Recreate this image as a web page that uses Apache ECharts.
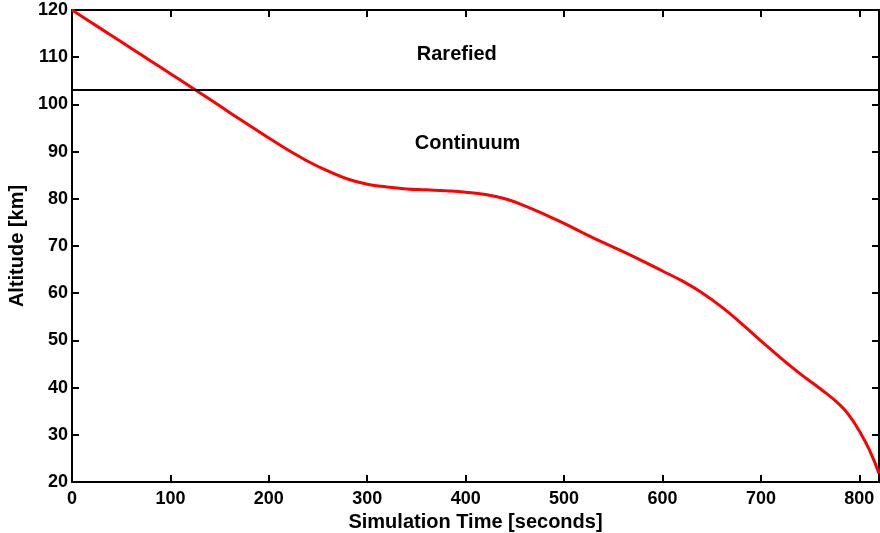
<!DOCTYPE html>
<html>
<head>
<meta charset="utf-8">
<script src="https://cdn.jsdelivr.net/npm/echarts@6/dist/echarts.min.js"></script>
<style>
  html, body { margin: 0; padding: 0; background: #fff; }
  #chart { width: 880px; height: 533px; }
</style>
</head>
<body>
<div id="chart"></div>
<script>
// simulation time [s] and altitude [km]
var times = [0, 20, 40, 60, 80, 100, 120, 140, 160, 180, 200, 220, 240, 260, 280, 300,
  320, 340, 360, 380, 400, 420, 440, 460, 480, 500, 520, 540, 560, 580, 600, 620, 640,
  660, 680, 700, 720, 740, 760, 780, 790, 800, 810, 820];
var altitude = [120, 117.3, 114.6, 111.9, 109.2, 106.5, 103.8, 101.1, 98.3, 95.6, 92.9,
  90.3, 87.9, 85.9, 84.2, 83.1, 82.5, 82.1, 81.9, 81.7, 81.4, 80.9, 80.0, 78.5, 76.7,
  74.8, 72.7, 70.7, 68.8, 66.8, 64.7, 62.6, 60.1, 57.1, 53.6, 49.9, 46.3, 42.9, 39.8,
  36.4, 34.0, 30.8, 26.9, 21.8];
var boundaryAlt = 103;
var regionLabels = ['Rarefied', 'Continuum'];
var regionPos = [[391, 110.5], [402, 91.8]];

var font = 'Liberation Sans';
var axisLine = { show: true, onZero: false, lineStyle: { color: '#000', width: 2 } };
var ticks = { show: true, inside: true, length: 7, lineStyle: { color: '#000', width: 2 } };
var tickFont = { color: '#000', fontFamily: font, fontWeight: 'bold', fontSize: 18 };
var titleFont = { color: '#000', fontFamily: font, fontWeight: 'bold', fontSize: 20 };

var option = {
  animation: false,
  grid: { left: 72, right: 1, top: 10, bottom: 51, outerBoundsMode: 'none', containLabel: false },
  xAxis: [{
    type: 'value', min: 0, max: 820, interval: 100, position: 'bottom',
    name: 'Simulation Time [seconds]', nameLocation: 'middle', nameGap: 23,
    nameTextStyle: titleFont,
    axisLine: axisLine, axisTick: ticks, splitLine: { show: false },
    axisLabel: Object.assign({ margin: 8, showMaxLabel: false }, tickFont)
  }, {
    type: 'value', min: 0, max: 820, interval: 100, position: 'top',
    axisLine: axisLine, axisTick: ticks, splitLine: { show: false },
    axisLabel: { show: false }
  }],
  yAxis: [{
    type: 'value', min: 20, max: 120, interval: 10, position: 'left',
    name: 'Altitude [km]', nameLocation: 'middle', nameGap: 40,
    nameTextStyle: titleFont,
    axisLine: axisLine, axisTick: ticks, splitLine: { show: false },
    axisLabel: Object.assign({ margin: 4 }, tickFont)
  }, {
    type: 'value', min: 20, max: 120, interval: 10, position: 'right',
    axisLine: axisLine, axisTick: ticks, splitLine: { show: false },
    axisLabel: { show: false }
  }],
  series: [{
    type: 'line',
    data: times.map(function (t, i) { return [t, altitude[i]]; }),
    showSymbol: false,
    smooth: 0.5,
    lineStyle: { color: '#ff0000', width: 3 },
    markLine: {
      silent: true, symbol: 'none', label: { show: false },
      lineStyle: { color: '#000', width: 2, type: 'solid' },
      data: [{ yAxis: boundaryAlt }]
    }
  }, {
    type: 'scatter',
    symbolSize: 0,
    itemStyle: { opacity: 1 },
    data: regionLabels.map(function (n, i) { return { name: n, value: regionPos[i] }; }),
    label: Object.assign({ show: true, position: 'inside', formatter: '{b}' }, titleFont)
  }]
};

var myChart = echarts.init(document.getElementById('chart'));
myChart.setOption(option);
</script>
</body>
</html>
